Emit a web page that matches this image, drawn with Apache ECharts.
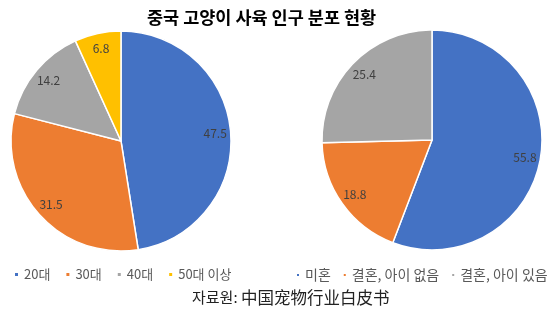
<!DOCTYPE html>
<html>
<head>
<meta charset="utf-8">
<script src="https://cdn.jsdelivr.net/npm/echarts@6/dist/echarts.min.js"></script>
<style>
html,body{margin:0;padding:0;background:#fff;}
#chart{width:560px;height:311px;}
</style>
</head>
<body>
<div id="chart"></div>
<script>
const titleText = '중국 고양이 사육 인구 분포 현황';
const sourceLabel = '자료원:';
const sourceName = '中国宠物行业白皮书';
const ageCategories = ['20대', '30대', '40대', '50대 이상'];
const ageValues = [47.5, 31.5, 14.2, 6.8];
const marriageCategories = ['미혼', '결혼, 아이 없음', '결혼, 아이 있음'];
const marriageValues = [55.8, 18.8, 25.4];
const palette = ['#4472C4', '#ED7D31', '#A5A5A5', '#FFC000'];

const FONT = '"Noto Sans CJK KR", "Noto Sans", sans-serif';

function toData(cats, vals) {
  return cats.map((c, i) => ({ name: c, value: vals[i] }));
}

function pieSeries(name, cats, vals, center) {
  return [
    {
      name: name,
      type: 'pie',
      center: center,
      radius: [0, 110],
      startAngle: 90,
      clockwise: true,
      silent: true,
      label: { show: false },
      labelLine: { show: false },
      itemStyle: { borderColor: '#fff', borderWidth: 1.5 },
      data: toData(cats, vals)
    },
    {
      name: name + '-labels',
      type: 'pie',
      center: center,
      radius: [73, 110],
      startAngle: 90,
      clockwise: true,
      silent: true,
      legendHoverLink: false,
      itemStyle: { color: 'rgba(0,0,0,0)', borderWidth: 0 },
      label: {
        show: true,
        position: 'inside',
        formatter: '{c}',
        color: '#404040',
        fontSize: 12,
        fontFamily: FONT
      },
      labelLine: { show: false },
      data: toData(cats, vals)
    }
  ];
}

const chart = echarts.init(document.getElementById('chart'), null, { renderer: 'canvas' });
chart.setOption({
  animation: false,
  color: palette,
  title: [
    {
      text: titleText,
      left: 142,
      top: 4,
      textStyle: { fontSize: 17.5, fontWeight: 'bold', color: '#000', fontFamily: FONT }
    },
    {
      text: '{a|' + sourceLabel + ' }{b|' + sourceName + '}',
      left: 187,
      top: 284,
      textStyle: {
        fontWeight: 'normal',
        rich: {
          a: { fontSize: 15, fontWeight: 'normal', color: '#222', fontFamily: FONT },
          b: { fontSize: 16.5, fontWeight: 'normal', color: '#222', fontFamily: '"Noto Sans CJK SC", sans-serif' }
        }
      }
    }
  ],
  legend: [
    {
      data: ageCategories,
      left: 8,
      top: 263,
      icon: 'rect',
      itemWidth: 5,
      itemHeight: 5,
      itemGap: 14,
      textStyle: { fontSize: 13, color: '#595959', fontFamily: FONT }
    },
    {
      data: marriageCategories,
      left: 290,
      top: 263,
      width: 270,
      icon: 'rect',
      itemWidth: 4,
      itemHeight: 4,
      itemGap: 11,
      textStyle: { fontSize: 14, color: '#595959', fontFamily: FONT }
    }
  ],
  series: [
    ...pieSeries('age', ageCategories, ageValues, [121, 141]),
    ...pieSeries('marriage', marriageCategories, marriageValues, [432, 140])
  ]
});
</script>
</body>
</html>
